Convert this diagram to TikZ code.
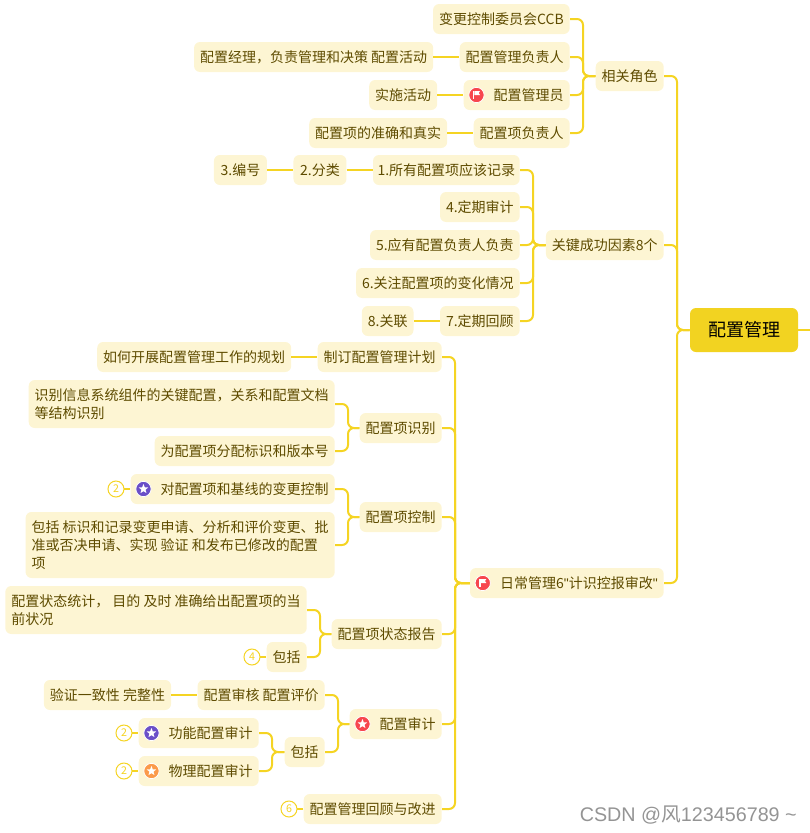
\documentclass[tikz,border=0pt]{standalone}
\usepackage{fontspec}
\setmainfont{Noto Sans CJK SC}
\newfontfamily\latinfont{Liberation Sans}
\usepackage{xcolor}
\usetikzlibrary{positioning,calc,shapes.geometric}
\definecolor{linegold}{HTML}{F5D423}
\definecolor{rootgold}{HTML}{F2D321}
\definecolor{topicfill}{HTML}{FDF5D3}
\definecolor{topicink}{HTML}{5E4B00}
\definecolor{iconred}{HTML}{F7464E}
\definecolor{iconpurple}{HTML}{6A4FC8}
\definecolor{iconorange}{HTML}{FB9A4A}
\begin{document}
\begin{tikzpicture}[x=0.75pt,y=-0.75pt,node distance=19.5pt,
  topic/.style={fill=topicfill,rounded corners=4.5pt,anchor=east,inner xsep=4.5pt,inner ysep=2pt,
    minimum height=22.5pt,align=left,text=topicink,font=\fontsize{10.5}{13.5}\selectfont},
  icontopic/.style={topic,execute at begin node=\hspace{18pt}},
  root/.style={fill=rootgold,rounded corners=4.5pt,minimum width=81pt,minimum height=33pt,font=\fontsize{13.5}{16}\selectfont},
  icondisc/.style={circle,draw=white,line width=.6pt,minimum size=11.5pt,inner sep=0pt},
  starmark/.style={star,star points=5,star point ratio=2.3,fill=white,minimum size=7.5pt,inner sep=0pt},
  countmark/.style={circle,draw=linegold,fill=white,line width=.75pt,minimum size=12pt,inner sep=0pt,text=linegold,font=\fontsize{8}{9}\selectfont},
  link/.style={draw=linegold,line width=1.5pt,rounded corners=4.5pt}]
  \useasboundingbox (0,0) rectangle (810,833);
  \node[root] (root) at (744,330) {配置管理};
  \coordinate (rootout) at (810,330);
  % first level
  \node[topic] (roles) at (664,76) {相关角色};
  \node[topic] (factors) at (664,245) {关键成功因素8个};
  \node[icontopic] (daily) at (664,583) {日常管理6{\latinfont"}计识控报审改{\latinfont"}};
  % roles
  \node[topic] (ccb) at (570,19) {变更控制委员会CCB};
  \node[topic] (cmo) at (570,57) {配置管理负责人};
  \node[topic,left=of cmo] (cmonote) {配置经理，负责管理和决策 配置活动};
  \node[icontopic] (admin) at (570,95) {配置管理员};
  \node[topic,left=of admin] (adminnote) {实施活动};
  \node[topic] (owner) at (570,133) {配置项负责人};
  \node[topic,left=of owner] (ownernote) {配置项的准确和真实};
  % factors
  \node[topic,inner xsep=3.4pt] (rec) at (520,170) {1.所有配置项应该记录};
  \node[topic,minimum width=39.75pt,left=of rec] (classify) {2.分类};
  \node[topic,minimum width=39.75pt,left=of classify] (numbering) {3.编号};
  \node[topic] (audits) at (520,207) {4.定期审计};
  \node[topic] (resp) at (520,245) {5.应有配置负责人负责};
  \node[topic] (changes) at (520,283) {6.关注配置项的变化情况};
  \node[topic] (review) at (520,321) {7.定期回顾};
  \node[topic,left=of review] (assoc) {8.关联};
  % daily work
  \node[topic] (plan) at (442,357) {制订配置管理计划};
  \node[topic,left=of plan] (plannote) {如何开展配置管理工作的规划};
  \node[topic] (ident) at (442,428) {配置项识别};
  \node[topic,minimum height=36pt] (identA) at (335,404) {识别信息系统组件的关键配置，关系和配置文档\\等结构识别};
  \node[topic] (identB) at (335,451) {为配置项分配标识和版本号};
  \node[topic] (ctrl) at (442,517) {配置项控制};
  \node[icontopic] (ctrlA) at (335,489) {对配置项和基线的变更控制};
  \node[topic,minimum height=49.5pt] (ctrlB) at (335,545) {包括 标识和记录变更申请、分析和评价变更、批\\准或否决申请、实现 验证 和发布已修改的配置\\项};
  \node[topic] (status) at (442,634) {配置项状态报告};
  \node[topic,minimum height=36pt] (statusA) at (307,610) {配置状态统计， 目的 及时 准确给出配置项的当\\前状况};
  \node[topic] (statusB) at (307,657) {包括};
  \node[icontopic] (audit) at (442,724) {配置审计};
  \node[topic] (auditA) at (325,695) {配置审核 配置评价};
  \node[topic,left=of auditA] (auditnote) {验证一致性 完整性};
  \node[topic] (auditB) at (325,752) {包括};
  \node[icontopic] (func) at (259,733) {功能配置审计};
  \node[icontopic] (phys) at (259,771) {物理配置审计};
  \node[topic] (improve) at (442,809) {配置管理回顾与改进};
  % elbows, child then parent
  \foreach \child/\parent in {roles/root,factors/root,daily/root,
    ccb/roles,cmo/roles,admin/roles,owner/roles,
    rec/factors,audits/factors,resp/factors,changes/factors,review/factors,
    plan/daily,ident/daily,ctrl/daily,status/daily,audit/daily,improve/daily,
    identA/ident,identB/ident,ctrlA/ctrl,ctrlB/ctrl,statusA/status,statusB/status,
    auditA/audit,auditB/audit,func/auditB,phys/auditB}
    \draw[link] (\child.east) -- ++(13,0) |- (\parent.west);
  \draw[link] (root.east) -- (rootout);
  \foreach \left/\right in {cmonote/cmo,adminnote/admin,ownernote/owner,numbering/classify,classify/rec,
    assoc/review,plannote/plan,auditnote/auditA}
    \draw[link] (\left.east) -- (\right.west);
  % icons
  \foreach \name/\col in {ctrlA/iconpurple,func/iconpurple,phys/iconorange,audit/iconred} {
    \node[icondisc,fill=\col] (\name disc) at ([xshift=9.75pt]\name.west) {};
    \node[starmark] (\name star) at (\name disc) {};
  }
  \foreach \name in {admin,daily} {
    \node[icondisc,fill=iconred] (\name disc) at ([xshift=9.75pt]\name.west) {};
    \fill[white] ([shift={(-2.5pt,-3pt)}]\name disc.center) rectangle ++(.9pt,6pt);
    \fill[white] ([shift={(-1.6pt,3pt)}]\name disc.center) -- ++(4.3pt,0pt) -- ++(-1pt,-1.5pt) -- ++(1pt,-1.5pt) -- ++(-4.3pt,0pt) -- cycle;
  }
  % counters
  \foreach \name/\num in {ctrlA/2,statusB/4,func/2,phys/2,improve/6} {
    \node[countmark,left=4.5pt of \name] (\name count) {\num};
    \draw[link] (\name count) -- (\name);
  }
  \node[anchor=east,text=black!42,inner sep=0pt,font=\fontsize{14.8}{17}\selectfont] (mark) at (797,815) {{\latinfont CSDN @}风{\latinfont 123456789 \~{}}};
\end{tikzpicture}
\end{document}
